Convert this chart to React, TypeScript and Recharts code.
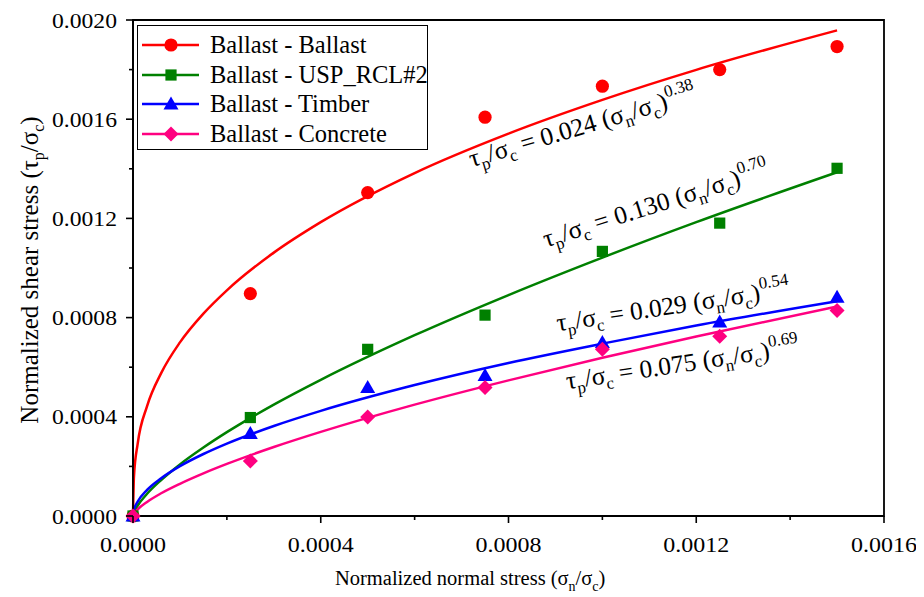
import React from 'react';
import { ComposedChart, Line, Scatter, XAxis, YAxis, ReferenceArea, ReferenceDot, Legend } from 'recharts';

const FONT = 'Liberation Serif, Times New Roman, serif';

// measured points
const pointX = [0, 0.00025, 0.0005, 0.00075, 0.001, 0.00125, 0.0015];
const ptBallast = [0, 0.000897, 0.001304, 0.001608, 0.001733, 0.0018, 0.001893];
const ptUSP = [0, 0.000397, 0.000672, 0.00081, 0.001067, 0.001181, 0.001402];
const ptTimber = [0, 0.000333, 0.000518, 0.000567, 0.0007, 0.000782, 0.000882];
const ptConcrete = [0, 0.000222, 0.000399, 0.000518, 0.000672, 0.000725, 0.000829];

// fitted curves
const fitX = [0, 0.000002, 0.00001, 0.00003, 0.00006, 0.0001, 0.00015, 0.0002, 0.0003, 0.0004, 0.0006, 0.0008, 0.001, 0.0012, 0.0015];
const fitBallast = [0, 0.000158, 0.000292, 0.000443, 0.000576, 0.0007, 0.000816, 0.00091, 0.001062, 0.001185, 0.001383, 0.001542, 0.001678, 0.001799, 0.001958];
const fitUSP = [0, 0.0000134, 0.0000415, 0.0000895, 0.000145, 0.000208, 0.000276, 0.000338, 0.000449, 0.000549, 0.000729, 0.000891, 0.001042, 0.001185, 0.001386];
const fitTimber = [0, 0.0000243, 0.0000578, 0.000105, 0.000152, 0.000201, 0.00025, 0.000292, 0.000363, 0.000424, 0.000528, 0.000617, 0.000695, 0.000768, 0.000866];
const fitConcrete = [0, 0.0000088, 0.0000266, 0.0000568, 0.0000917, 0.00013, 0.000172, 0.00021, 0.000278, 0.000339, 0.000449, 0.000547, 0.000638, 0.000724, 0.000845];

const xTicks = [0, 0.0002, 0.0004, 0.0006, 0.0008, 0.001, 0.0012, 0.0014, 0.0016];
const yTicks = [0, 0.0002, 0.0004, 0.0006, 0.0008, 0.001, 0.0012, 0.0014, 0.0016, 0.0018, 0.002];
const majorXTicks = [0, 0.0004, 0.0008, 0.0012, 0.0016];
const majorYTicks = [0, 0.0004, 0.0008, 0.0012, 0.0016, 0.002];

const seriesNames = ['Ballast - Ballast', 'Ballast - USP_RCL#2', 'Ballast - Timber', 'Ballast - Concrete'];
const seriesColors = ['#FF0000', '#008000', '#0000FF', '#FF0080'];
const seriesMarkers = ['circle', 'square', 'triangle', 'diamond'];
const seriesPoints = [ptBallast, ptUSP, ptTimber, ptConcrete];
const seriesFits = [fitBallast, fitUSP, fitTimber, fitConcrete];

const eqCoef = ['0.024', '0.130', '0.029', '0.075'];
const eqExp = ['0.38', '0.70', '0.54', '0.69'];
const eqAnchorX = [0.000722, 0.00088, 0.000905, 0.000925];
const eqAnchorY = [0.001406, 0.001083, 0.000745, 0.000511];
const eqAngle = [-16.5, -17.5, -8.5, -8.5];

const isIn = (arr: number[], v: number) => arr.some((m) => Math.abs(m - v) < 1e-9);

const Marker = ({ kind, cx, cy, color }: any) => {
  if (cx == null || cy == null) return null;
  switch (kind) {
    case 'circle':
      return <circle cx={cx} cy={cy} r={6.6} fill={color} />;
    case 'square':
      return <rect x={cx - 5.6} y={cy - 5.6} width={11.2} height={11.2} fill={color} />;
    case 'triangle':
      return <polygon points={`${cx},${cy - 7.5} ${cx + 7.5},${cy + 5.5} ${cx - 7.5},${cy + 5.5}`} fill={color} />;
    default:
      return <polygon points={`${cx},${cy - 7.5} ${cx + 7.5},${cy} ${cx},${cy + 7.5} ${cx - 7.5},${cy}`} fill={color} />;
  }
};

const XTick = (props: any) => {
  const { x, y, payload } = props;
  const major = isIn(majorXTicks, payload.value);
  return (
    <g>
      <line x1={x} x2={x} y1={y} y2={y + (major ? 7 : 4)} stroke="#000" strokeWidth={1.6} />
      {major && (
        <text x={x} y={y + 36} textAnchor="middle" fontFamily={FONT} fontSize={22} fill="#000" textLength={66} lengthAdjust="spacingAndGlyphs">
          {payload.value.toFixed(4)}
        </text>
      )}
    </g>
  );
};

const YTick = (props: any) => {
  const { x, y, payload } = props;
  const major = isIn(majorYTicks, payload.value);
  return (
    <g>
      <line x1={x - (major ? 7 : 4)} x2={x} y1={y} y2={y} stroke="#000" strokeWidth={1.6} />
      {major && (
        <text x={x - 16} y={y + 7.5} textAnchor="end" fontFamily={FONT} fontSize={22} fill="#000" textLength={65} lengthAdjust="spacingAndGlyphs">
          {payload.value.toFixed(4)}
        </text>
      )}
    </g>
  );
};

const XTitle = (props: any) => {
  const vb = props.viewBox || { x: 0, y: 0, width: 0, height: 0 };
  const cx = vb.x + vb.width * 0.449;
  const by = vb.y + 69;
  return (
    <text x={cx} y={by} textAnchor="middle" fontFamily={FONT} fontSize={20.5} fill="#000">
      <tspan>Normalized normal stress (σ</tspan>
      <tspan dy={6} fontSize={14}>n</tspan>
      <tspan dy={-6}>/σ</tspan>
      <tspan dy={6} fontSize={14}>c</tspan>
      <tspan dy={-6}>)</tspan>
    </text>
  );
};

const YTitle = (props: any) => {
  const vb = props.viewBox || { x: 0, y: 0, width: 0, height: 0 };
  const bx = vb.x + 30;
  const cy = vb.y + vb.height / 2 + 2;
  return (
    <text x={bx} y={cy} textAnchor="middle" fontFamily={FONT} fontSize={25} fill="#000" transform={`rotate(-90 ${bx} ${cy})`}>
      <tspan>Normalized shear stress (τ</tspan>
      <tspan dy={6} fontSize={16}>p</tspan>
      <tspan dy={-6}>/σ</tspan>
      <tspan dy={6} fontSize={16}>c</tspan>
      <tspan dy={-6}>)</tspan>
    </text>
  );
};

const Equation = ({ cx, cy, i }: any) => {
  if (cx == null || cy == null) return null;
  return (
    <text x={cx} y={cy} transform={`rotate(${eqAngle[i]} ${cx} ${cy})`} fontFamily={FONT} fontSize={25.5} fill="#000">
      <tspan>τ</tspan>
      <tspan dy={6} fontSize={17}>p</tspan>
      <tspan dy={-6}>/σ</tspan>
      <tspan dy={6} fontSize={17}>c</tspan>
      <tspan dy={-6}>{` = ${eqCoef[i]} (σ`}</tspan>
      <tspan dy={6} fontSize={17}>n</tspan>
      <tspan dy={-6}>/σ</tspan>
      <tspan dy={6} fontSize={17}>c</tspan>
      <tspan dy={-6}>)</tspan>
      <tspan dy={-12} fontSize={17}>{eqExp[i]}</tspan>
    </text>
  );
};

const LegendBox = () => (
  <div
    style={{
      width: 291,
      height: 125,
      boxSizing: 'border-box',
      border: '1.6px solid #000',
      background: '#fff',
      paddingTop: 4,
      fontFamily: FONT,
      fontSize: 24.5,
      color: '#000',
    }}
  >
    {seriesNames.map((name, i) => (
      <div key={name} style={{ display: 'flex', alignItems: 'center', height: 29.7 }}>
        <svg width={66} height={20} style={{ marginLeft: 3, flex: 'none' }}>
          <line x1={1} x2={58} y1={10} y2={10} stroke={seriesColors[i]} strokeWidth={2.5} />
          <Marker kind={seriesMarkers[i]} cx={30} cy={10} color={seriesColors[i]} />
        </svg>
        <span style={{ marginLeft: 3, whiteSpace: 'nowrap', lineHeight: '24px' }}>{name}</span>
      </div>
    ))}
  </div>
);

const pointData = seriesPoints.map((arr) => pointX.map((x, j) => ({ x, y: arr[j] })));
const fitData = seriesFits.map((arr) => fitX.map((x, j) => ({ x, y: arr[j] })));

export default function App() {
  return (
    <div style={{ width: 916, height: 589, fontFamily: FONT }}>
      <ComposedChart width={916} height={589} margin={{ top: 12, right: 40, bottom: 0, left: 0 }}>
        <XAxis
          dataKey="x"
          type="number"
          domain={[0, 0.0016]}
          ticks={xTicks}
          interval={0}
          height={81}
          tickSize={0}
          tickMargin={0}
          tickLine={false}
          tick={<XTick />}
          axisLine={{ stroke: '#000', strokeWidth: 1.8 }}
          label={<XTitle />}
        />
        <YAxis
          type="number"
          domain={[0, 0.002]}
          ticks={yTicks}
          interval={0}
          width={125}
          tickSize={0}
          tickMargin={0}
          tickLine={false}
          tick={<YTick />}
          axisLine={{ stroke: '#000', strokeWidth: 1.8 }}
          label={<YTitle />}
        />
        <ReferenceArea x1={0} x2={0.0016} y1={0} y2={0.002} fill="none" stroke="#000" strokeWidth={1.8} ifOverflow="visible" />
        {fitData.map((d, i) => (
          <Line
            key={'fit' + i}
            data={d}
            dataKey="y"
            type="monotone"
            stroke={seriesColors[i]}
            strokeWidth={2.5}
            dot={false}
            activeDot={false}
            isAnimationActive={false}
            legendType="none"
            name={seriesNames[i] + ' fit'}
          />
        ))}
        {pointData.map((d, i) => (
          <Scatter
            key={'pt' + i}
            data={d}
            dataKey="y"
            name={seriesNames[i]}
            fill={seriesColors[i]}
            isAnimationActive={false}
            shape={(p: any) => <Marker kind={seriesMarkers[i]} cx={p.cx} cy={p.cy} color={seriesColors[i]} />}
          />
        ))}
        {eqCoef.map((c, i) => (
          <ReferenceDot
            key={'eq' + i}
            x={eqAnchorX[i]}
            y={eqAnchorY[i]}
            r={1}
            ifOverflow="visible"
            shape={(p: any) => <Equation cx={p.cx} cy={p.cy} i={i} />}
          />
        ))}
        <Legend
          layout="vertical"
          align="center"
          verticalAlign="middle"
          content={<LegendBox />}
          wrapperStyle={{ left: 129, top: 17, width: 291, height: 125 }}
        />
      </ComposedChart>
    </div>
  );
}
